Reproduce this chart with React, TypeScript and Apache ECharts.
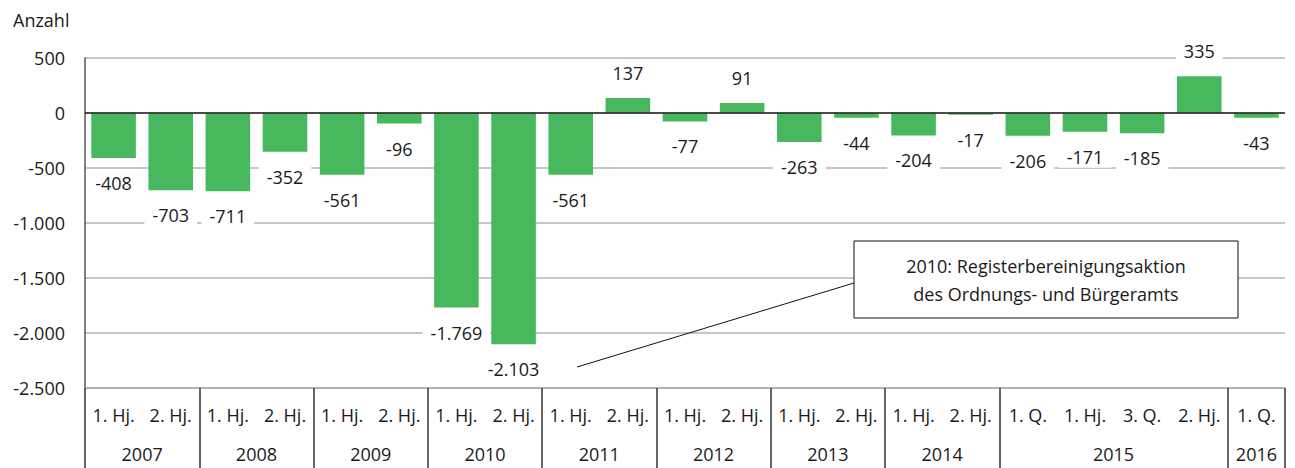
import React, { useEffect, useRef } from "react";
import * as echarts from "echarts";

const periods = [
  "1. Hj.", "2. Hj.", "1. Hj.", "2. Hj.", "1. Hj.", "2. Hj.", "1. Hj.", "2. Hj.",
  "1. Hj.", "2. Hj.", "1. Hj.", "2. Hj.", "1. Hj.", "2. Hj.", "1. Hj.", "2. Hj.",
  "1. Q.", "1. Hj.", "3. Q.", "2. Hj.", "1. Q.",
];
const values = [
  -408, -703, -711, -352, -561, -96, -1769, -2103, -561, 137, -77, 91,
  -263, -44, -204, -17, -206, -171, -185, 335, -43,
];
const years = ["2007", "2008", "2009", "2010", "2011", "2012", "2013", "2014", "2015", "2016"];
const yearCounts = [2, 2, 2, 2, 2, 2, 2, 2, 4, 1];
const annotationLines = ["2010: Registerbereinigungsaktion", "des Ordnungs- und Bürgeramts"];

const FONT = "'Open Sans', 'Noto Sans', sans-serif";

function fmt(v: number): string {
  const s = Math.abs(v).toString().replace(/\B(?=(\d{3})+(?!\d))/g, ".");
  return (v < 0 ? "-" : "") + s;
}

export default function App() {
  const ref = useRef<HTMLDivElement>(null);
  useEffect(() => {
    if (!ref.current) return;
    const chart = echarts.init(ref.current, null, { renderer: "svg" });

    const boundaries: number[] = [0];
    const centers: number[] = [];
    let acc = 0;
    yearCounts.forEach((c) => {
      centers.push(acc + c / 2);
      acc += c;
      boundaries.push(acc);
    });

    chart.setOption({
      animation: false,
      textStyle: { fontFamily: FONT },
      title: {
        text: "Anzahl",
        left: 8,
        top: 6,
        textStyle: { fontFamily: FONT, fontSize: 18, fontWeight: "normal", color: "#1a1a1a" },
      },
      grid: { left: 85, right: 10, top: 58, bottom: 80, containLabel: false },
      xAxis: [
        {
          type: "category",
          data: periods,
          position: "bottom",
          axisLine: { onZero: false, lineStyle: { color: "#aaa", width: 1.5 } },
          axisTick: { show: false },
          axisLabel: { interval: 0, margin: 18, fontSize: 18, color: "#1a1a1a", fontFamily: FONT },
          splitLine: { show: false },
        },
        {
          type: "value",
          min: 0,
          max: periods.length,
          position: "bottom",
          axisLine: { show: false, onZero: false },
          splitLine: { show: false },
          axisTick: {
            show: true,
            customValues: boundaries,
            length: 80,
            inside: false,
            lineStyle: { color: "#333", width: 1.5 },
          },
          axisLabel: {
            customValues: centers,
            margin: 57,
            fontSize: 18,
            color: "#1a1a1a",
            fontFamily: FONT,
            formatter: (v: number) => {
              const i = centers.findIndex((c) => Math.abs(c - v) < 1e-6);
              return i >= 0 ? years[i] : "";
            },
          },
        },
      ],
      yAxis: {
        type: "value",
        min: -2500,
        max: 500,
        interval: 500,
        axisLine: { show: true, lineStyle: { color: "#555", width: 1.5 } },
        axisTick: { show: false },
        axisLabel: { fontSize: 18, color: "#1a1a1a", margin: 20, fontFamily: FONT, formatter: (v: number) => fmt(v) },
        splitLine: { show: true, lineStyle: { color: "#b5b5b5", width: 1.5 } },
      },
      series: [
        {
          type: "bar",
          xAxisIndex: 0,
          barCategoryGap: "22%",
          itemStyle: { color: "#47b85e" },
          data: values.map((v) => ({
            value: v,
            label: { position: v < 0 ? "bottom" : "top" },
          })),
          label: {
            show: true,
            distance: 14,
            fontSize: 18,
            color: "#1a1a1a",
            fontFamily: FONT,
            backgroundColor: "#fff",
            padding: [2, 8],
            formatter: (p: any) => fmt(p.value),
          },
          markLine: {
            silent: true,
            symbol: "none",
            label: { show: false },
            lineStyle: { color: "#222", width: 1.5, type: "solid" },
            data: [{ yAxis: 0 }],
          },
        },
      ],
      graphic: [
        {
          type: "line",
          z: 100,
          shape: { x1: 577, y1: 367, x2: 854, y2: 283 },
          style: { stroke: "#111", lineWidth: 1 },
        },
        {
          type: "rect",
          z: 100,
          shape: { x: 854, y: 241, width: 384, height: 77 },
          style: { fill: "#fff", stroke: "#111", lineWidth: 1 },
        },
        {
          type: "text",
          z: 101,
          x: 1046,
          y: 280,
          style: {
            text: annotationLines.join("\n"),
            fontSize: 18,
            lineHeight: 28,
            fontFamily: FONT,
            fill: "#1a1a1a",
            align: "center",
            verticalAlign: "middle",
          },
        },
      ],
    });
    return () => chart.dispose();
  }, []);
  return (
    <div
      ref={ref}
      style={{ position: "fixed", left: 0, top: 0, width: 1295, height: 468, background: "#fff" }}
    />
  );
}
